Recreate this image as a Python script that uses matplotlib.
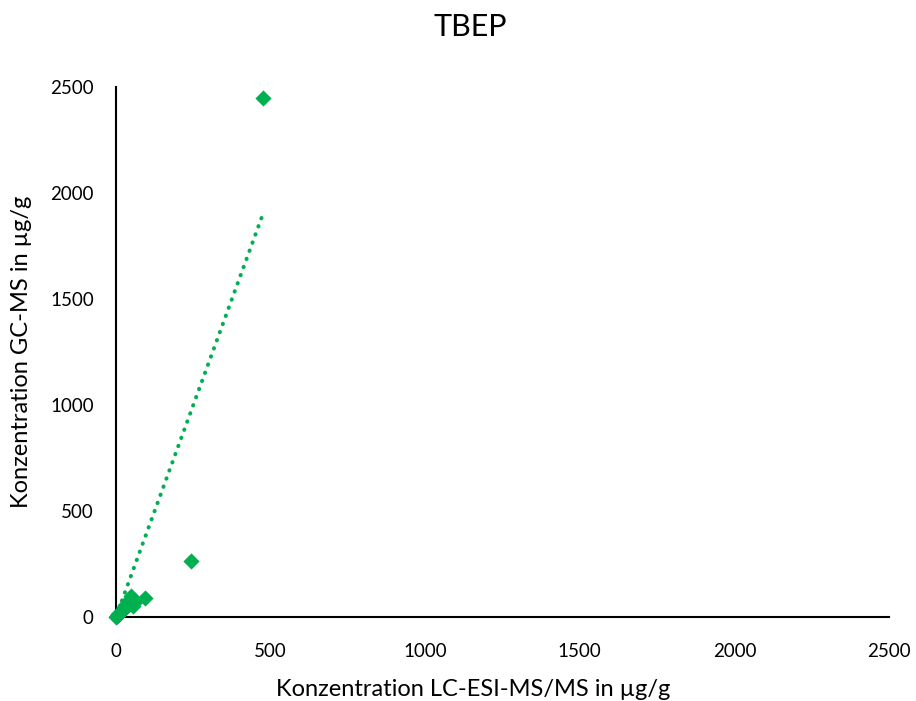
import numpy as np
import matplotlib.pyplot as plt

# TBEP concentrations: LC-ESI-MS/MS (x) vs. GC-MS (y), in µg/g
lc_conc = [1, 2, 4, 6, 8, 10, 12, 14, 16, 18, 20, 23, 25, 26, 29, 30, 32, 36, 38, 40,
           42, 45, 48, 50, 55, 62, 94, 242, 474]
gc_conc = [1, 3, 6, 9, 12, 15, 18, 21, 24, 27, 30, 34, 45, 38, 42, 55, 47, 52, 65, 58,
           78, 62, 72, 100, 50, 70, 88, 266, 2450]

x_ticks = [0, 500, 1000, 1500, 2000, 2500]
y_ticks = [0, 500, 1000, 1500, 2000, 2500]

green = '#00B050'
plt.rcParams['font.family'] = ['Lato', 'DejaVu Sans']

fig = plt.figure(figsize=(9.16, 7.01), dpi=100)
ax = fig.add_axes([0.1266, 0.1198, 0.8439, 0.7561])

ax.scatter(lc_conc, gc_conc, marker='D', s=68, color=green, zorder=3,
           linewidths=0, clip_on=False)

# linear trendline through the origin
x_arr = np.array(lc_conc, dtype=float)
y_arr = np.array(gc_conc, dtype=float)
slope = np.sum(x_arr * y_arr) / np.sum(x_arr ** 2)
xs = np.array([0, x_arr.max()])
ax.plot(xs, slope * xs, linestyle=(0, (0.1, 2.05)), color=green,
        linewidth=2.9, dash_capstyle='round', zorder=2)

ax.set_xlim(0, 2500)
ax.set_ylim(0, 2500)
ax.set_xticks(x_ticks)
ax.set_yticks(y_ticks)
ax.tick_params(length=0, labelsize=13.5, colors='#000000')
ax.tick_params(axis='x', pad=19)
ax.tick_params(axis='y', pad=16)
for side in ['top', 'right']:
    ax.spines[side].set_visible(False)
for side in ['left', 'bottom']:
    ax.spines[side].set_linewidth(1.5)
    ax.spines[side].set_color('black')

fig.text(0.513, 0.961, 'TBEP', fontsize=22, ha='center', va='center')
ax.set_xlabel('Konzentration LC-ESI-MS/MS in µg/g', fontsize=17, va='center')
ax.set_ylabel('Konzentration GC-MS in µg/g', fontsize=17, va='center')
ax.xaxis.set_label_coords(0.462, -0.1375)
ax.yaxis.set_label_coords(-0.1216, 0.5)

fig.savefig('out.png', dpi=100)
